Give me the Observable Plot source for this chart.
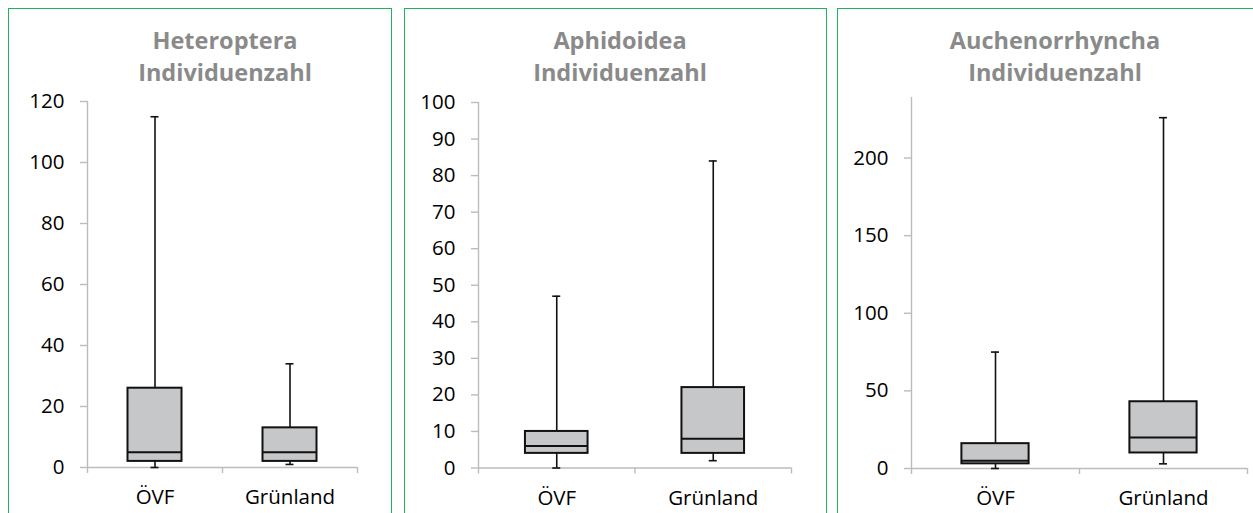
<!DOCTYPE html>
<html>
<head>
<meta charset="utf-8">
<script src="https://cdn.jsdelivr.net/npm/d3@7"></script>
<script src="https://cdn.jsdelivr.net/npm/@observablehq/plot@0.6"></script>
<style>
  html, body { margin: 0; padding: 0; background: #fff; }
  body { width: 1253px; height: 513px; position: relative; overflow: hidden; font-family: "Open Sans", sans-serif; }
  .panel { position: absolute; top: 8px; height: 530px; border: 1.5px solid #1fb25a; box-sizing: border-box; }
  .title { position: absolute; width: 320px; text-align: center; font-weight: 700; font-size: 23.5px; line-height: 32px; color: #8a8a8a; top: 24px; }
  .chart { position: absolute; top: 0; }
</style>
</head>
<body>
<script>
const categories = ["ÖVF", "Grünland"];

const titles = ["Heteroptera", "Aphidoidea", "Auchenorrhyncha"];
const subtitle = "Individuenzahl";

// Heteroptera
const hetMin = [0, 1];
const hetQ1 = [2, 2];
const hetMedian = [5, 5];
const hetQ3 = [26, 13];
const hetMax = [115, 34];
const hetTicks = [0, 20, 40, 60, 80, 100, 120];

// Aphidoidea
const aphMin = [0, 2];
const aphQ1 = [4, 4];
const aphMedian = [6, 8];
const aphQ3 = [10, 22];
const aphMax = [47, 84];
const aphTicks = [0, 10, 20, 30, 40, 50, 60, 70, 80, 90, 100];

// Auchenorrhyncha
const aucMin = [0, 3];
const aucQ1 = [3, 10];
const aucMedian = [5, 20];
const aucQ3 = [16, 43];
const aucMax = [75, 226];
const aucTicks = [0, 50, 100, 150, 200];

function rows(mins, q1, med, q3, max) {
  return categories.map((c, i) => ({cat: c, pos: i + 0.5, min: mins[i], q1: q1[i], median: med[i], q3: q3[i], max: max[i]}));
}

const panels = [
  {title: titles[0], data: rows(hetMin, hetQ1, hetMedian, hetQ3, hetMax), ticks: hetTicks, yTop: 120,
   svgLeft: 0, width: 400, mL: 87, mR: 43, mT: 101, mB: 46, border: [8, 392], titleX: 225},
  {title: titles[1], data: rows(aphMin, aphQ1, aphMedian, aphQ3, aphMax), ticks: aphTicks, yTop: 100,
   svgLeft: 400, width: 430, mL: 78, mR: 39, mT: 102, mB: 45.5, border: [404, 827], titleX: 620},
  {title: titles[2], data: rows(aucMin, aucQ1, aucMedian, aucQ3, aucMax), ticks: aucTicks, yTop: 239,
   svgLeft: 830, width: 423, mL: 81, mR: 6, mT: 97, mB: 45, border: [837, 1260], titleX: 1055}
];

const axisGray = "#bcbcbc";

for (const p of panels) {
  const border = document.createElement("div");
  border.className = "panel";
  border.style.left = p.border[0] + "px";
  border.style.width = (p.border[1] - p.border[0]) + "px";
  document.body.appendChild(border);

  const t = document.createElement("div");
  t.className = "title";
  t.style.left = (p.titleX - 160) + "px";
  t.innerHTML = p.title + "<br>" + subtitle;
  document.body.appendChild(t);

  const chart = Plot.plot({
    width: p.width,
    height: 513,
    marginLeft: p.mL,
    marginRight: p.mR,
    marginTop: p.mT,
    marginBottom: p.mB,
    style: {fontFamily: "'Open Sans', sans-serif", fontSize: "20.5px", color: "black", background: "transparent", overflow: "visible"},
    x: {type: "linear", domain: [0, 2], axis: null},
    y: {domain: [0, p.yTop], axis: null},
    marks: [
      // axis lines
      Plot.ruleX([0], {y1: 0, y2: p.yTop, stroke: axisGray, strokeWidth: 1.4}),
      Plot.ruleY([0], {x1: 0, x2: 2, stroke: axisGray, strokeWidth: 1.4}),
      // y ticks and labels
      Plot.axisY({ticks: p.ticks, tickSize: 7, tickFormat: () => "", color: axisGray, strokeWidth: 1.4, label: null}),
      Plot.axisY({ticks: p.ticks, tickSize: 0, tickPadding: 23, tickFormat: d => String(d), color: "black", label: null}),
      // x ticks at category boundaries and labels at centers
      Plot.axisX({ticks: [0, 1, 2], tickSize: 6, tickFormat: () => "", color: axisGray, strokeWidth: 1.4, label: null}),
      Plot.axisX({ticks: p.data.map(d => d.pos), tickSize: 0, tickPadding: 22, tickFormat: v => categories[Math.floor(v)], color: "black", label: null}),
      // whiskers
      Plot.ruleX(p.data, {x: "pos", y1: "q3", y2: "max", stroke: "#111", strokeWidth: 1.6}),
      Plot.ruleX(p.data, {x: "pos", y1: "min", y2: "q1", stroke: "#111", strokeWidth: 1.6}),
      Plot.ruleY(p.data, {y: "max", x1: "pos", x2: "pos", insetLeft: -4, insetRight: -4, stroke: "#111", strokeWidth: 1.6}),
      Plot.ruleY(p.data, {y: "min", x1: "pos", x2: "pos", insetLeft: -4, insetRight: -4, stroke: "#111", strokeWidth: 1.6}),
      // boxes
      Plot.rectY(p.data, {x1: d => d.pos - 0.2, x2: d => d.pos + 0.2, y1: "q1", y2: "q3", fill: "#c6c7c8", stroke: "#111", strokeWidth: 2}),
      // median
      Plot.ruleY(p.data, {y: "median", x1: d => d.pos - 0.2, x2: d => d.pos + 0.2, stroke: "#111", strokeWidth: 2})
    ]
  });
  chart.classList.add("chart");
  chart.style.left = p.svgLeft + "px";
  chart.style.position = "absolute";
  chart.style.top = "0px";
  document.body.appendChild(chart);
}
</script>
</body>
</html>
